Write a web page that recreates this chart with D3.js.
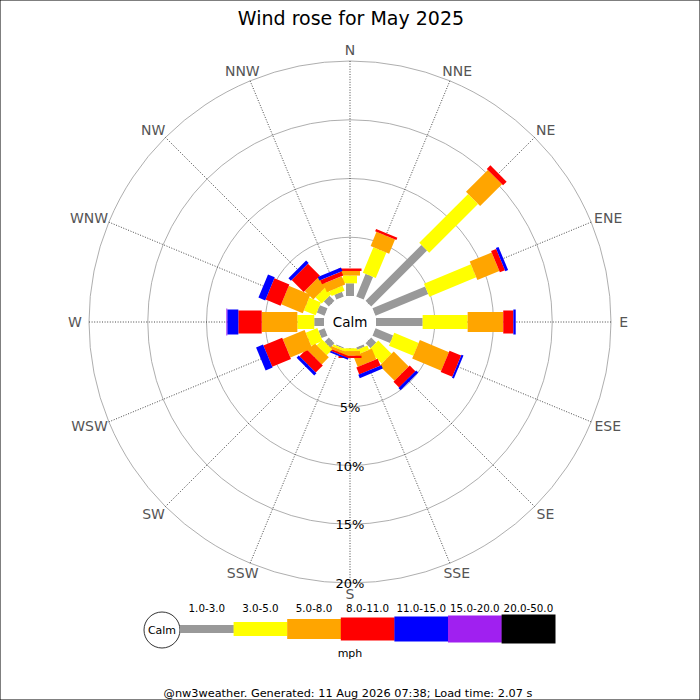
<!DOCTYPE html>
<html><head><meta charset="utf-8">
<script src="https://cdn.jsdelivr.net/npm/d3@7"></script>
<style>body{margin:0;background:#fff}svg{display:block;font-family:"DejaVu Sans",sans-serif}</style>
</head><body><svg id="c" width="700" height="700"></svg>
<script>
const directions = ["N","NNE","NE","ENE","E","ESE","SE","SSE","S","SSW","SW","WSW","W","WNW","NW","NNW"];
const speedClasses = ["1.0-3.0","3.0-5.0","5.0-8.0","8.0-11.0","11.0-15.0","15.0-20.0","20.0-50.0"];
const classColors = ["#999999","#ffff00","#ffa500","#ff0000","#0000ff","#a020f0","#000000"];
// percentage of time per direction, per speed class (mph)
const s1to3   = [1.08,2.08,6.72,4.85,3.97,1.62,0.60,0.21,0.03,0.09,0.51,0.55,0.83,0.71,0.60,0.43];
const s3to5   = [0.66,2.35,5.88,4.32,3.83,2.25,1.60,0.39,0.23,0.18,0.68,1.07,1.44,1.08,0.76,0.46];
const s5to8   = [0.39,1.31,2.63,2.02,3.03,2.68,1.80,0.97,0.40,0.24,0.85,2.01,3.03,1.99,1.02,0.77];
const s8to11  = [0.21,0.22,0.43,0.47,0.86,1.07,0.68,0.64,0.19,0.17,0.85,1.73,1.99,1.38,1.45,0.38];
const s11to15 = [0,0,0,0.25,0.20,0.18,0.26,0.31,0,0.15,0.26,0.64,0.94,0.62,0.30,0.33];
const s15to20 = [0,0,0,0,0,0,0,0,0,0,0,0,0.08,0,0,0];
const s20to50 = [0,0,0,0,0,0,0,0,0,0,0,0,0,0,0,0];
const ringTicks = [5,10,15,20];
const title = "Wind rose for May 2025";
const unitLabel = "mph";
const footer = "@nw3weather. Generated: 11 Aug 2026 07:38; Load time: 2.07 s";

const series = [s1to3,s3to5,s5to8,s8to11,s11to15,s15to20,s20to50];
const table = directions.map((d,i)=>{const o={dir:d};speedClasses.forEach((c,k)=>o[c]=series[k][i]);return o;});
const stacked = d3.stack().keys(speedClasses)(table);

const svg = d3.select("#c");
const cx=350, cy=322, calmR=25;
const r = d3.scaleLinear().domain([0,20]).range([26,261]);
const ang = d3.scaleBand().domain(directions).range([0,360]).align(0).paddingInner(0).paddingOuter(0);
const bandW = d3.scaleOrdinal().domain(speedClasses).range([8,14,20,23,25,27,29]);
const color = d3.scaleOrdinal().domain(speedClasses).range(classColors);

svg.append("text").attr("x",351).attr("y",25).attr("text-anchor","middle")
  .attr("font-size",19).attr("fill","#000").text(title);

const g = svg.append("g").attr("transform",`translate(${cx},${cy})`);
// rings
g.selectAll("circle.ring").data(ringTicks).join("circle").attr("class","ring")
  .attr("r",d=>r(d)).attr("fill","none").attr("stroke","#999").attr("stroke-width",0.8);
// spokes
const rad = d=>ang(d)*Math.PI/180;
g.selectAll("line.spoke").data(directions).join("line")
  .attr("x1",0).attr("y1",0)
  .attr("x2",d=>Math.sin(rad(d))*r(20)).attr("y2",d=>-Math.cos(rad(d))*r(20))
  .attr("stroke","#333").attr("stroke-width",0.9).attr("stroke-dasharray","1,1.6");
// bars, drawn per direction
directions.forEach((d,i)=>{
  const dg = g.append("g").attr("transform",`rotate(${ang(d)})`);
  stacked.forEach(layer=>{
    const [a,b]=layer[i];
    if(b-a<=0) return;
    const w=bandW(layer.key);
    dg.append("rect").attr("x",-w/2).attr("y",-r(b)).attr("width",w)
      .attr("height",r(b)-r(a)).attr("fill",color(layer.key));
  });
});
// calm circle
g.append("circle").attr("r",calmR).attr("fill","#fff");
g.append("text").attr("y",5).attr("text-anchor","middle").attr("font-size",13.5).attr("fill","#000").text("Calm");
// ring labels
g.selectAll("text.rl").data(ringTicks).join("text").attr("class","rl")
  .attr("x",0).attr("y",d=>r(d)+5).attr("text-anchor","middle")
  .attr("font-size",13).attr("fill","#000").text(d=>d+"%");
// direction labels
g.selectAll("text.dl").data(directions).join("text").attr("class","dl")
  .attr("font-size",14).attr("fill","#555").attr("text-anchor","middle")
  .text(d=>d)
  .each(function(d){
    const s=Math.sin(rad(d)), c=Math.cos(rad(d));
    const hw=this.getComputedTextLength()/2;
    d3.select(this).attr("x",s*271+s*hw*0.6).attr("y",-c*272+5);
  });

// legend
const lx0=180, segW=53.6, ly=629;
const lg = svg.append("g");
lg.append("circle").attr("cx",162).attr("cy",630).attr("r",18).attr("fill","#fff").attr("stroke","#000").attr("stroke-width",0.8);
lg.append("text").attr("x",162).attr("y",634).attr("text-anchor","middle").attr("font-size",11).text("Calm");
const lxs = d3.scaleBand().domain(speedClasses).range([lx0,lx0+segW*7]);
lg.selectAll("rect").data(speedClasses).join("rect")
  .attr("x",d=>lxs(d)).attr("width",lxs.bandwidth()+0.3)
  .attr("y",d=>ly-bandW(d)/2).attr("height",d=>bandW(d)).attr("fill",d=>color(d));
lg.selectAll("text.ll").data(speedClasses).join("text").attr("class","ll")
  .attr("x",d=>lxs(d)+lxs.bandwidth()/2).attr("y",611.5).attr("text-anchor","middle")
  .attr("font-size",10.3).attr("fill","#000").text(d=>d);
lg.append("text").attr("x",350).attr("y",657).attr("text-anchor","middle").attr("font-size",11).text(unitLabel);
svg.append("text").attr("x",348).attr("y",697).attr("text-anchor","middle").attr("font-size",11.3).attr("fill","#000").text(footer);
svg.append("rect").attr("x",0).attr("y",0).attr("width",700).attr("height",700).attr("fill","none").attr("stroke","#000").attr("stroke-width",1);
</script></body></html>
